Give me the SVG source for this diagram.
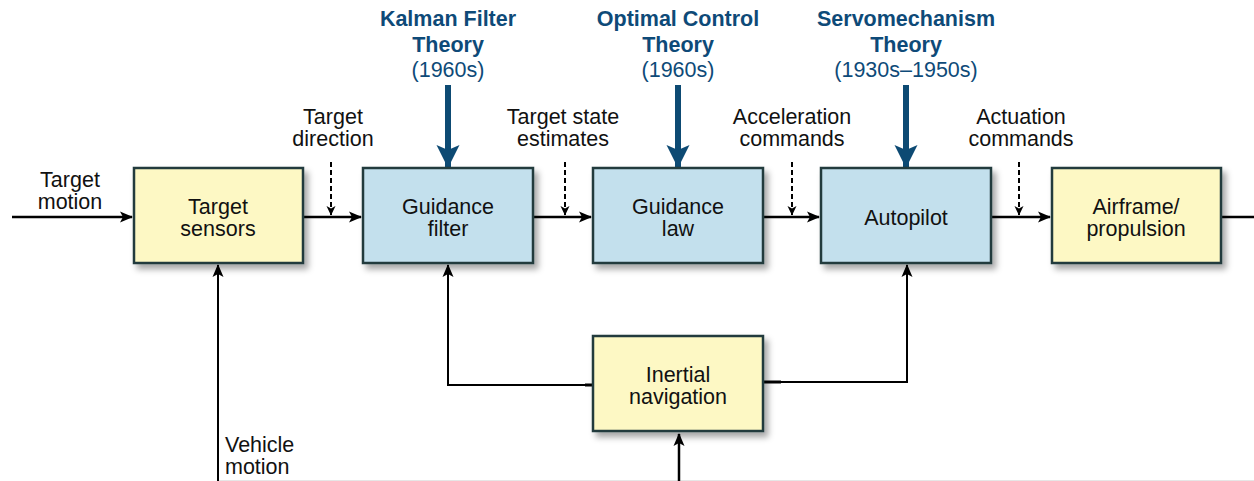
<svg xmlns="http://www.w3.org/2000/svg" width="1254" height="481" viewBox="0 0 1254 481">
<defs>
<filter id="sh" x="-10%" y="-10%" width="130%" height="140%">
<feDropShadow dx="4" dy="5" stdDeviation="3" flood-color="#000" flood-opacity="0.35"/>
</filter>
<marker id="ah" markerWidth="13" markerHeight="12" refX="12" refY="6" orient="auto" markerUnits="userSpaceOnUse">
<path d="M0,0.5 L13,6 L0,11.5 L3,6 z" fill="#000"/>
</marker>
<marker id="dh" markerWidth="10" markerHeight="10" refX="9" refY="5" orient="auto" markerUnits="userSpaceOnUse">
<path d="M0,0.5 L9.5,5 L0,9.5 L2.5,5 z" fill="#000"/>
</marker>
<marker id="bh" markerWidth="24" markerHeight="24" refX="22" refY="12" orient="auto" markerUnits="userSpaceOnUse">
<path d="M0,0.5 L23,12 L0,23.5 L5,12 z" fill="#0d4a73"/>
</marker>
</defs>
<style>
text{font-family:"Liberation Sans",Arial,sans-serif;font-size:21.5px;fill:#111;text-anchor:middle}
.hd{font-weight:bold;fill:#0e4a78}
.yr{fill:#0e4a78}
.st{text-anchor:start}
.y{fill:#fdf8c4;stroke:#203b3e;stroke-width:2.5}
.b{fill:#c3e0ed;stroke:#203b3e;stroke-width:2.5}
.ln{fill:none;stroke:#000;stroke-width:2.5}
.fb{fill:none;stroke:#000;stroke-width:2}
.ds{fill:none;stroke:#000;stroke-width:2;stroke-dasharray:5 3}
.bl{fill:none;stroke:#0d4a73;stroke-width:6}
</style>
<rect width="1254" height="481" fill="#fff"/>
<line x1="218" y1="480.5" x2="1254" y2="480.5" stroke="#e6e6e6" stroke-width="1"/>

<g id="connectors">
<line class="ln" x1="12" y1="217" x2="132" y2="217" marker-end="url(#ah)"/>
<line class="ln" x1="303" y1="217" x2="361" y2="217" marker-end="url(#ah)"/>
<line class="ln" x1="533" y1="217" x2="591" y2="217" marker-end="url(#ah)"/>
<line class="ln" x1="763" y1="217" x2="819" y2="217" marker-end="url(#ah)"/>
<line class="ln" x1="991" y1="217" x2="1050" y2="217" marker-end="url(#ah)"/>
<line class="ln" x1="1221" y1="217" x2="1254" y2="217"/>
<line class="ds" x1="331" y1="162" x2="331" y2="215" marker-end="url(#dh)"/>
<line class="ds" x1="565" y1="162" x2="565" y2="215" marker-end="url(#dh)"/>
<line class="ds" x1="792" y1="162" x2="792" y2="215" marker-end="url(#dh)"/>
<line class="ds" x1="1019" y1="162" x2="1019" y2="215" marker-end="url(#dh)"/>
<line class="bl" x1="448" y1="85" x2="448" y2="167" marker-end="url(#bh)"/>
<line class="bl" x1="678" y1="85" x2="678" y2="167" marker-end="url(#bh)"/>
<line class="bl" x1="906" y1="85" x2="906" y2="167" marker-end="url(#bh)"/>
<polyline class="fb" points="593,385 448,385 448,265" marker-end="url(#ah)"/>
<line x1="585" y1="385" x2="593" y2="385" stroke="#000" stroke-width="3"/>
<polyline class="fb" points="763,382 907,382 907,265" marker-end="url(#ah)"/>
<line x1="763" y1="382" x2="781" y2="382" stroke="#000" stroke-width="3"/>
<line class="fb" x1="218" y1="481" x2="218" y2="265" marker-end="url(#ah)"/>
<line class="ln" x1="679" y1="481" x2="679" y2="434" marker-end="url(#ah)"/>
</g>

<g id="sensors"><rect class="y" x="134" y="168" width="169" height="95" filter="url(#sh)"/><text x="218" y="214">Target</text><text x="218" y="236">sensors</text></g>
<g id="filter"><rect class="b" x="363" y="168" width="170" height="95" filter="url(#sh)"/><text x="448" y="214">Guidance</text><text x="448" y="236">filter</text></g>
<g id="law"><rect class="b" x="593" y="168" width="170" height="95" filter="url(#sh)"/><text x="678" y="214">Guidance</text><text x="678" y="236">law</text></g>
<g id="autopilot"><rect class="b" x="821" y="168" width="170" height="95" filter="url(#sh)"/><text x="906" y="225">Autopilot</text></g>
<g id="airframe"><rect class="y" x="1052" y="168" width="169" height="95" filter="url(#sh)"/><text x="1136" y="214">Airframe/</text><text x="1136" y="236">propulsion</text></g>
<g id="inertial"><rect class="y" x="593" y="336" width="170" height="95" filter="url(#sh)"/><text x="678" y="382">Inertial</text><text x="678" y="404">navigation</text></g>

<g id="labels">
<text x="70" y="187">Target</text><text x="70" y="209">motion</text>
<text x="333" y="124">Target</text><text x="333" y="146">direction</text>
<text x="563" y="124">Target state</text><text x="563" y="146">estimates</text>
<text x="792" y="124">Acceleration</text><text x="792" y="146">commands</text>
<text x="1021" y="124">Actuation</text><text x="1021" y="146">commands</text>
<text class="st" x="225" y="452">Vehicle</text><text class="st" x="225" y="474">motion</text>
</g>
<g id="kalman"><text class="hd" x="448" y="26">Kalman Filter</text><text class="hd" x="448" y="52">Theory</text><text class="yr" x="448" y="77">(1960s)</text></g>
<g id="optimal"><text class="hd" x="678" y="26">Optimal Control</text><text class="hd" x="678" y="52">Theory</text><text class="yr" x="678" y="77">(1960s)</text></g>
<g id="servo"><text class="hd" x="906" y="26">Servomechanism</text><text class="hd" x="906" y="52">Theory</text><text class="yr" x="906" y="77">(1930s–1950s)</text></g>
</svg>
